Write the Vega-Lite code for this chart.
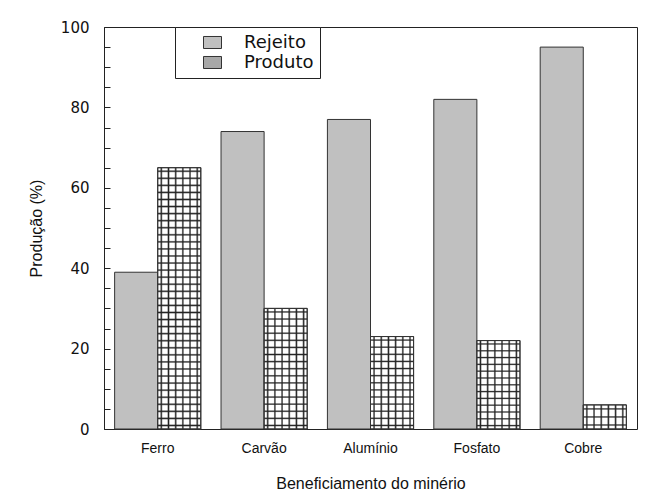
{
  "$schema": "https://vega.github.io/schema/vega-lite/v6.json",
  "width": 533,
  "height": 402,
  "autosize": {"type": "none"},
  "padding": {"left": 104, "top": 27, "right": 9, "bottom": 72},
  "background": "white",
  "data": {
    "values": [
      {"Minerio": "Ferro", "Tipo": "Rejeito", "Valor": 39},
      {"Minerio": "Ferro", "Tipo": "Produto", "Valor": 65},
      {"Minerio": "Carvão", "Tipo": "Rejeito", "Valor": 74},
      {"Minerio": "Carvão", "Tipo": "Produto", "Valor": 30},
      {"Minerio": "Alumínio", "Tipo": "Rejeito", "Valor": 77},
      {"Minerio": "Alumínio", "Tipo": "Produto", "Valor": 23},
      {"Minerio": "Fosfato", "Tipo": "Rejeito", "Valor": 82},
      {"Minerio": "Fosfato", "Tipo": "Produto", "Valor": 22},
      {"Minerio": "Cobre", "Tipo": "Rejeito", "Valor": 95},
      {"Minerio": "Cobre", "Tipo": "Produto", "Valor": 6}
    ]
  },
  "encoding": {
    "x": {
      "field": "Minerio", "type": "nominal",
      "sort": ["Ferro", "Carvão", "Alumínio", "Fosfato", "Cobre"],
      "scale": {"paddingInner": 0.19, "paddingOuter": 0.1},
      "axis": {
        "title": "Beneficiamento do minério", "labelAngle": 0, "ticks": false, "domain": false,
        "labelFont": "Liberation Sans", "labelFontSize": 14, "labelColor": "#111111", "labelPadding": 12,
        "titleFont": "Liberation Sans", "titleFontSize": 16, "titleFontWeight": "normal", "titleColor": "#111111", "titlePadding": 20
      }
    },
    "xOffset": {
      "field": "Tipo", "type": "nominal", "sort": ["Rejeito", "Produto"],
      "scale": {"paddingInner": 0, "paddingOuter": 0}
    }
  },
  "layer": [
    {
      "mark": {"type": "bar", "stroke": "#333333", "strokeWidth": 1},
      "encoding": {
        "y": {
          "field": "Valor", "type": "quantitative",
          "scale": {"domain": [0, 100], "nice": false},
          "axis": {
            "orient": "left", "values": [0, 20, 40, 60, 80, 100], "ticks": false,
            "domainColor": "#222222", "grid": false,
            "labelFont": "DejaVu Sans", "labelFontSize": 15, "labelColor": "#111111", "labelPadding": 15,
            "title": "Produção (%)", "titleFont": "Liberation Sans", "titleFontSize": 16, "titleFontWeight": "normal",
            "titleColor": "#111111", "titlePadding": 16
          }
        },
        "fill": {
          "field": "Tipo", "type": "nominal",
          "scale": {"domain": ["Rejeito", "Produto"], "range": ["#c0c0c0", "#a8a8a8"]},
          "condition": {"test": "datum.Tipo === 'Produto'", "value": {"gradient": "linear", "x1": 0, "y1": 0, "x2": 1, "y2": 0, "stops": [
            {"offset": 0, "color": "#ffffff"},
            {"offset": 0.05, "color": "#ffffff"}, {"offset": 0.083, "color": "#222222"}, {"offset": 0.116, "color": "#ffffff"},
            {"offset": 0.217, "color": "#ffffff"}, {"offset": 0.25, "color": "#222222"}, {"offset": 0.283, "color": "#ffffff"},
            {"offset": 0.384, "color": "#ffffff"}, {"offset": 0.417, "color": "#222222"}, {"offset": 0.45, "color": "#ffffff"},
            {"offset": 0.55, "color": "#ffffff"}, {"offset": 0.583, "color": "#222222"}, {"offset": 0.616, "color": "#ffffff"},
            {"offset": 0.717, "color": "#ffffff"}, {"offset": 0.75, "color": "#222222"}, {"offset": 0.783, "color": "#ffffff"},
            {"offset": 0.884, "color": "#ffffff"}, {"offset": 0.917, "color": "#222222"}, {"offset": 0.95, "color": "#ffffff"},
            {"offset": 1, "color": "#ffffff"}
          ]}},
          "legend": {
            "title": null, "orient": "none", "legendX": 71, "legendY": 0,
            "strokeColor": "#222222", "fillColor": "white", "padding": 6,
            "symbolType": "M-1,-0.667H1V0.667H-1Z", "symbolSize": 324,
            "symbolStrokeColor": "#333333", "symbolStrokeWidth": 1,
            "symbolOffset": 22, "labelOffset": 22,
            "labelFont": "DejaVu Sans", "labelFontSize": 18, "labelColor": "#111111", "rowPadding": 1
          }
        }
      }
    },
    {
      "transform": [{"filter": "datum.Tipo === 'Produto'"}],
      "mark": {"type": "bar", "stroke": "#333333", "strokeWidth": 1},
      "encoding": {
        "y": {
          "field": "Valor", "type": "quantitative",
          "axis": {
            "orient": "right", "offset": -533, "zindex": 1,
            "values": [0, 5, 10, 15, 20, 25, 30, 35, 40, 45, 50, 55, 60, 65, 70, 75, 80, 85, 90, 95, 100],
            "tickSize": 6, "tickColor": "#222222", "tickWidth": 1,
            "labels": false, "domain": false, "title": null, "grid": false
          }
        },
        "fill": {
          "condition": [
            {"test": "datum.Minerio === 'Ferro'", "value": {"gradient": "linear", "x1": 0, "y1": 0, "x2": 0, "y2": 1, "stops": [
              {"offset": 0.008, "color": "rgba(34,34,34,0)"}, {"offset": 0.0135, "color": "#222222"}, {"offset": 0.019, "color": "rgba(34,34,34,0)"},
              {"offset": 0.035, "color": "rgba(34,34,34,0)"}, {"offset": 0.0405, "color": "#222222"}, {"offset": 0.046, "color": "rgba(34,34,34,0)"},
              {"offset": 0.0621, "color": "rgba(34,34,34,0)"}, {"offset": 0.0676, "color": "#222222"}, {"offset": 0.0731, "color": "rgba(34,34,34,0)"},
              {"offset": 0.0891, "color": "rgba(34,34,34,0)"}, {"offset": 0.0946, "color": "#222222"}, {"offset": 0.1001, "color": "rgba(34,34,34,0)"},
              {"offset": 0.1161, "color": "rgba(34,34,34,0)"}, {"offset": 0.1216, "color": "#222222"}, {"offset": 0.1271, "color": "rgba(34,34,34,0)"},
              {"offset": 0.1431, "color": "rgba(34,34,34,0)"}, {"offset": 0.1486, "color": "#222222"}, {"offset": 0.1541, "color": "rgba(34,34,34,0)"},
              {"offset": 0.1702, "color": "rgba(34,34,34,0)"}, {"offset": 0.1757, "color": "#222222"}, {"offset": 0.1812, "color": "rgba(34,34,34,0)"},
              {"offset": 0.1972, "color": "rgba(34,34,34,0)"}, {"offset": 0.2027, "color": "#222222"}, {"offset": 0.2082, "color": "rgba(34,34,34,0)"},
              {"offset": 0.2242, "color": "rgba(34,34,34,0)"}, {"offset": 0.2297, "color": "#222222"}, {"offset": 0.2352, "color": "rgba(34,34,34,0)"},
              {"offset": 0.2513, "color": "rgba(34,34,34,0)"}, {"offset": 0.2568, "color": "#222222"}, {"offset": 0.2623, "color": "rgba(34,34,34,0)"},
              {"offset": 0.2783, "color": "rgba(34,34,34,0)"}, {"offset": 0.2838, "color": "#222222"}, {"offset": 0.2893, "color": "rgba(34,34,34,0)"},
              {"offset": 0.3053, "color": "rgba(34,34,34,0)"}, {"offset": 0.3108, "color": "#222222"}, {"offset": 0.3163, "color": "rgba(34,34,34,0)"},
              {"offset": 0.3323, "color": "rgba(34,34,34,0)"}, {"offset": 0.3378, "color": "#222222"}, {"offset": 0.3433, "color": "rgba(34,34,34,0)"},
              {"offset": 0.3594, "color": "rgba(34,34,34,0)"}, {"offset": 0.3649, "color": "#222222"}, {"offset": 0.3704, "color": "rgba(34,34,34,0)"},
              {"offset": 0.3864, "color": "rgba(34,34,34,0)"}, {"offset": 0.3919, "color": "#222222"}, {"offset": 0.3974, "color": "rgba(34,34,34,0)"},
              {"offset": 0.4134, "color": "rgba(34,34,34,0)"}, {"offset": 0.4189, "color": "#222222"}, {"offset": 0.4244, "color": "rgba(34,34,34,0)"},
              {"offset": 0.4404, "color": "rgba(34,34,34,0)"}, {"offset": 0.4459, "color": "#222222"}, {"offset": 0.4514, "color": "rgba(34,34,34,0)"},
              {"offset": 0.4675, "color": "rgba(34,34,34,0)"}, {"offset": 0.473, "color": "#222222"}, {"offset": 0.4785, "color": "rgba(34,34,34,0)"},
              {"offset": 0.4945, "color": "rgba(34,34,34,0)"}, {"offset": 0.5, "color": "#222222"}, {"offset": 0.5055, "color": "rgba(34,34,34,0)"},
              {"offset": 0.5215, "color": "rgba(34,34,34,0)"}, {"offset": 0.527, "color": "#222222"}, {"offset": 0.5325, "color": "rgba(34,34,34,0)"},
              {"offset": 0.5486, "color": "rgba(34,34,34,0)"}, {"offset": 0.5541, "color": "#222222"}, {"offset": 0.5596, "color": "rgba(34,34,34,0)"},
              {"offset": 0.5756, "color": "rgba(34,34,34,0)"}, {"offset": 0.5811, "color": "#222222"}, {"offset": 0.5866, "color": "rgba(34,34,34,0)"},
              {"offset": 0.6026, "color": "rgba(34,34,34,0)"}, {"offset": 0.6081, "color": "#222222"}, {"offset": 0.6136, "color": "rgba(34,34,34,0)"},
              {"offset": 0.6296, "color": "rgba(34,34,34,0)"}, {"offset": 0.6351, "color": "#222222"}, {"offset": 0.6406, "color": "rgba(34,34,34,0)"},
              {"offset": 0.6567, "color": "rgba(34,34,34,0)"}, {"offset": 0.6622, "color": "#222222"}, {"offset": 0.6677, "color": "rgba(34,34,34,0)"},
              {"offset": 0.6837, "color": "rgba(34,34,34,0)"}, {"offset": 0.6892, "color": "#222222"}, {"offset": 0.6947, "color": "rgba(34,34,34,0)"},
              {"offset": 0.7107, "color": "rgba(34,34,34,0)"}, {"offset": 0.7162, "color": "#222222"}, {"offset": 0.7217, "color": "rgba(34,34,34,0)"},
              {"offset": 0.7377, "color": "rgba(34,34,34,0)"}, {"offset": 0.7432, "color": "#222222"}, {"offset": 0.7487, "color": "rgba(34,34,34,0)"},
              {"offset": 0.7648, "color": "rgba(34,34,34,0)"}, {"offset": 0.7703, "color": "#222222"}, {"offset": 0.7758, "color": "rgba(34,34,34,0)"},
              {"offset": 0.7918, "color": "rgba(34,34,34,0)"}, {"offset": 0.7973, "color": "#222222"}, {"offset": 0.8028, "color": "rgba(34,34,34,0)"},
              {"offset": 0.8188, "color": "rgba(34,34,34,0)"}, {"offset": 0.8243, "color": "#222222"}, {"offset": 0.8298, "color": "rgba(34,34,34,0)"},
              {"offset": 0.8459, "color": "rgba(34,34,34,0)"}, {"offset": 0.8514, "color": "#222222"}, {"offset": 0.8569, "color": "rgba(34,34,34,0)"},
              {"offset": 0.8729, "color": "rgba(34,34,34,0)"}, {"offset": 0.8784, "color": "#222222"}, {"offset": 0.8839, "color": "rgba(34,34,34,0)"},
              {"offset": 0.8999, "color": "rgba(34,34,34,0)"}, {"offset": 0.9054, "color": "#222222"}, {"offset": 0.9109, "color": "rgba(34,34,34,0)"},
              {"offset": 0.9269, "color": "rgba(34,34,34,0)"}, {"offset": 0.9324, "color": "#222222"}, {"offset": 0.9379, "color": "rgba(34,34,34,0)"},
              {"offset": 0.954, "color": "rgba(34,34,34,0)"}, {"offset": 0.9595, "color": "#222222"}, {"offset": 0.965, "color": "rgba(34,34,34,0)"},
              {"offset": 0.981, "color": "rgba(34,34,34,0)"}, {"offset": 0.9865, "color": "#222222"}, {"offset": 0.992, "color": "rgba(34,34,34,0)"}
            ]}},
            {"test": "datum.Minerio === 'Carvão'", "value": {"gradient": "linear", "x1": 0, "y1": 0, "x2": 0, "y2": 1, "stops": [
              {"offset": 0.0184, "color": "rgba(34,34,34,0)"}, {"offset": 0.0294, "color": "#222222"}, {"offset": 0.0404, "color": "rgba(34,34,34,0)"},
              {"offset": 0.0772, "color": "rgba(34,34,34,0)"}, {"offset": 0.0882, "color": "#222222"}, {"offset": 0.0992, "color": "rgba(34,34,34,0)"},
              {"offset": 0.1361, "color": "rgba(34,34,34,0)"}, {"offset": 0.1471, "color": "#222222"}, {"offset": 0.1581, "color": "rgba(34,34,34,0)"},
              {"offset": 0.1949, "color": "rgba(34,34,34,0)"}, {"offset": 0.2059, "color": "#222222"}, {"offset": 0.2169, "color": "rgba(34,34,34,0)"},
              {"offset": 0.2537, "color": "rgba(34,34,34,0)"}, {"offset": 0.2647, "color": "#222222"}, {"offset": 0.2757, "color": "rgba(34,34,34,0)"},
              {"offset": 0.3125, "color": "rgba(34,34,34,0)"}, {"offset": 0.3235, "color": "#222222"}, {"offset": 0.3345, "color": "rgba(34,34,34,0)"},
              {"offset": 0.3714, "color": "rgba(34,34,34,0)"}, {"offset": 0.3824, "color": "#222222"}, {"offset": 0.3934, "color": "rgba(34,34,34,0)"},
              {"offset": 0.4302, "color": "rgba(34,34,34,0)"}, {"offset": 0.4412, "color": "#222222"}, {"offset": 0.4522, "color": "rgba(34,34,34,0)"},
              {"offset": 0.489, "color": "rgba(34,34,34,0)"}, {"offset": 0.5, "color": "#222222"}, {"offset": 0.511, "color": "rgba(34,34,34,0)"},
              {"offset": 0.5478, "color": "rgba(34,34,34,0)"}, {"offset": 0.5588, "color": "#222222"}, {"offset": 0.5698, "color": "rgba(34,34,34,0)"},
              {"offset": 0.6066, "color": "rgba(34,34,34,0)"}, {"offset": 0.6176, "color": "#222222"}, {"offset": 0.6286, "color": "rgba(34,34,34,0)"},
              {"offset": 0.6655, "color": "rgba(34,34,34,0)"}, {"offset": 0.6765, "color": "#222222"}, {"offset": 0.6875, "color": "rgba(34,34,34,0)"},
              {"offset": 0.7243, "color": "rgba(34,34,34,0)"}, {"offset": 0.7353, "color": "#222222"}, {"offset": 0.7463, "color": "rgba(34,34,34,0)"},
              {"offset": 0.7831, "color": "rgba(34,34,34,0)"}, {"offset": 0.7941, "color": "#222222"}, {"offset": 0.8051, "color": "rgba(34,34,34,0)"},
              {"offset": 0.8419, "color": "rgba(34,34,34,0)"}, {"offset": 0.8529, "color": "#222222"}, {"offset": 0.8639, "color": "rgba(34,34,34,0)"},
              {"offset": 0.9008, "color": "rgba(34,34,34,0)"}, {"offset": 0.9118, "color": "#222222"}, {"offset": 0.9228, "color": "rgba(34,34,34,0)"},
              {"offset": 0.9596, "color": "rgba(34,34,34,0)"}, {"offset": 0.9706, "color": "#222222"}, {"offset": 0.9816, "color": "rgba(34,34,34,0)"}
            ]}},
            {"test": "datum.Minerio === 'Alumínio' || datum.Minerio === 'Fosfato'", "value": {"gradient": "linear", "x1": 0, "y1": 0, "x2": 0, "y2": 1, "stops": [
              {"offset": 0.0245, "color": "rgba(34,34,34,0)"}, {"offset": 0.0385, "color": "#222222"}, {"offset": 0.0525, "color": "rgba(34,34,34,0)"},
              {"offset": 0.1014, "color": "rgba(34,34,34,0)"}, {"offset": 0.1154, "color": "#222222"}, {"offset": 0.1294, "color": "rgba(34,34,34,0)"},
              {"offset": 0.1783, "color": "rgba(34,34,34,0)"}, {"offset": 0.1923, "color": "#222222"}, {"offset": 0.2063, "color": "rgba(34,34,34,0)"},
              {"offset": 0.2552, "color": "rgba(34,34,34,0)"}, {"offset": 0.2692, "color": "#222222"}, {"offset": 0.2832, "color": "rgba(34,34,34,0)"},
              {"offset": 0.3322, "color": "rgba(34,34,34,0)"}, {"offset": 0.3462, "color": "#222222"}, {"offset": 0.3602, "color": "rgba(34,34,34,0)"},
              {"offset": 0.4091, "color": "rgba(34,34,34,0)"}, {"offset": 0.4231, "color": "#222222"}, {"offset": 0.4371, "color": "rgba(34,34,34,0)"},
              {"offset": 0.486, "color": "rgba(34,34,34,0)"}, {"offset": 0.5, "color": "#222222"}, {"offset": 0.514, "color": "rgba(34,34,34,0)"},
              {"offset": 0.5629, "color": "rgba(34,34,34,0)"}, {"offset": 0.5769, "color": "#222222"}, {"offset": 0.5909, "color": "rgba(34,34,34,0)"},
              {"offset": 0.6398, "color": "rgba(34,34,34,0)"}, {"offset": 0.6538, "color": "#222222"}, {"offset": 0.6678, "color": "rgba(34,34,34,0)"},
              {"offset": 0.7168, "color": "rgba(34,34,34,0)"}, {"offset": 0.7308, "color": "#222222"}, {"offset": 0.7448, "color": "rgba(34,34,34,0)"},
              {"offset": 0.7937, "color": "rgba(34,34,34,0)"}, {"offset": 0.8077, "color": "#222222"}, {"offset": 0.8217, "color": "rgba(34,34,34,0)"},
              {"offset": 0.8706, "color": "rgba(34,34,34,0)"}, {"offset": 0.8846, "color": "#222222"}, {"offset": 0.8986, "color": "rgba(34,34,34,0)"},
              {"offset": 0.9475, "color": "rgba(34,34,34,0)"}, {"offset": 0.9615, "color": "#222222"}, {"offset": 0.9755, "color": "rgba(34,34,34,0)"}
            ]}},
            {"test": "datum.Minerio === 'Cobre'", "value": {"gradient": "linear", "x1": 0, "y1": 0, "x2": 0, "y2": 1, "stops": [
              {"offset": 0.1127, "color": "rgba(34,34,34,0)"}, {"offset": 0.1667, "color": "#222222"}, {"offset": 0.2207, "color": "rgba(34,34,34,0)"},
              {"offset": 0.446, "color": "rgba(34,34,34,0)"}, {"offset": 0.5, "color": "#222222"}, {"offset": 0.554, "color": "rgba(34,34,34,0)"},
              {"offset": 0.7793, "color": "rgba(34,34,34,0)"}, {"offset": 0.8333, "color": "#222222"}, {"offset": 0.8873, "color": "rgba(34,34,34,0)"}
            ]}}
          ],
          "value": "transparent"
        }
      }
    }
  ],
  "resolve": {"axis": {"y": "independent"}},
  "config": {
    "view": {"stroke": "#222222", "strokeWidth": 1}
  }
}
